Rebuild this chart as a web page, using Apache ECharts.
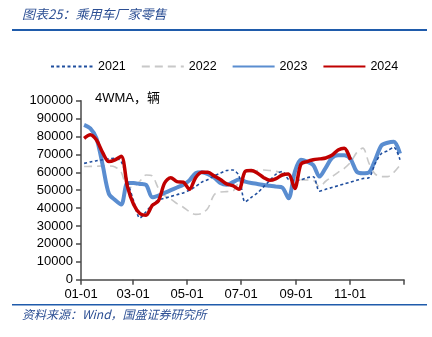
<!DOCTYPE html>
<html>
<head>
<meta charset="utf-8">
<script src="https://cdn.jsdelivr.net/npm/echarts@6/dist/echarts.min.js"></script>
<style>
  html, body { margin: 0; padding: 0; background: #fff; }
  #chart { width: 432px; height: 337px; }
</style>
</head>
<body>
<div id="chart"></div>
<script>
// Week midpoints, as day of year (weekly 4-week moving average)
const weekDays = [3.5, 10.5, 17.5, 24.5, 31.5, 38.5, 45.5, 52.5, 59.5, 66.5, 73.5, 80.5, 87.5,
  94.5, 101.5, 108.5, 115.5, 122.5, 129.5, 136.5, 143.5, 150.5, 157.5, 164.5, 171.5, 178.5,
  185.5, 192.5, 199.5, 206.5, 213.5, 220.5, 227.5, 234.5, 241.5, 248.5, 255.5, 262.5, 269.5,
  276.5, 283.5, 290.5, 297.5, 304.5, 311.5, 318.5, 325.5, 332.5, 339.5, 346.5, 353.5, 360.5];

const retail2021 = [65000, 65800, 66500, 67000, 67500, 67800, 66000, 55000, 44000, 34500, 38000, 42000, 44500,
  45500, 46500, 47500, 48500, 50000, 52000, 54500, 56000, 58000, 59500, 61000, 61300, 58000,
  43500, 46000, 48500, 52000, 55500, 59000, 60500, 56000, 55500, 55800, 57000, 57500, 49500,
  50500, 51500, 52500, 53500, 54500, 55500, 56500, 57000, 65000, 70500, 72000, 74000, 67000];

const retail2022 = [63200, 63300, 63400, 63500, 63500, 63000, 60000, 51500, 52000, 55000, 58500, 58000, 51000,
  47000, 45000, 42500, 40500, 38000, 36500, 37000, 40000, 47500, 49000, 49200, 49500, 55000,
  59000, 60000, 61000, 61300, 61000, 60500, 59500, 58000, 57000, 55800, 55700, 55500, 52000,
  55000, 57500, 60000, 62200, 65500, 71000, 73500, 65000, 59000, 57600, 57600, 60000, 64000];

const retail2023 = [86500, 84500, 79000, 64000, 48000, 44500, 42000, 54000, 54000, 53500, 53000, 46000, 47000,
  48500, 50000, 51500, 53000, 55500, 59500, 60000, 59000, 57000, 54000, 53000, 54500, 56000,
  54800, 54000, 53500, 52900, 52500, 52000, 51500, 45500, 60000, 67000, 66000, 64000, 57600,
  62500, 68000, 69500, 69500, 67500, 60400, 59500, 60000, 67000, 75000, 76500, 77000, 70500];

const retail2024 = [79000, 81000, 78000, 71000, 66000, 67000, 69000, 52000, 42000, 37000, 36000, 41500, 44000,
  54000, 57000, 54800, 54500, 50500, 57000, 60000, 60000, 58000, 56000, 53500, 52500, 50500,
  60500, 61000, 59500, 57000, 55500, 56500, 58500, 59000, 51000, 64500, 66000, 67000, 67500,
  68000, 69500, 72500, 73500, 67000];

// Month-start ticks (day of year) and their labels
const monthTicks = [0, 59, 120, 181, 243, 304, 365];
const monthLabels = ['01-01', '03-01', '05-01', '07-01', '09-01', '11-01'];

const seriesNames = ['2021', '2022', '2023', '2024'];

const toPairs = vals => vals.map((v, i) => [weekDays[i], v]);

const FONT = '"Liberation Sans", Arial, sans-serif';
const CJK = '"Noto Sans CJK SC", sans-serif';

const chart = echarts.init(document.getElementById('chart'), null, { renderer: 'canvas' });

chart.setOption({
  animation: false,
  backgroundColor: '#ffffff',
  grid: { left: 81, right: 28, top: 100.7, bottom: 57.3 },
  legend: {
    left: 50,
    top: 60,
    padding: 0,
    itemWidth: 42,
    itemHeight: 10,
    itemGap: 15,
    itemStyle: { opacity: 0 },
    textStyle: { fontFamily: FONT, fontSize: 12.5, color: '#000', padding: [0, 0, 0, 0] },
    data: seriesNames
  },
  xAxis: {
    type: 'value',
    min: 0,
    max: 365,
    axisLine: { show: true, lineStyle: { color: '#4a4a4a', width: 1.5 } },
    axisTick: { show: true, length: 5, inside: false, customValues: monthTicks,
      lineStyle: { color: '#4a4a4a', width: 1.5 } },
    axisLabel: {
      customValues: monthTicks.slice(0, 6),
      formatter: v => monthLabels[monthTicks.indexOf(v)] || '',
      fontFamily: FONT, fontSize: 13, color: '#000', margin: 8
    },
    splitLine: { show: false }
  },
  yAxis: {
    type: 'value',
    min: 0,
    max: 100000,
    interval: 10000,
    axisLine: { show: true, lineStyle: { color: '#4a4a4a', width: 1.5 } },
    axisTick: { show: true, length: 5, inside: false, lineStyle: { color: '#4a4a4a', width: 1.5 } },
    axisLabel: { fontFamily: FONT, fontSize: 13, color: '#000', margin: 8,
      formatter: v => String(v) },
    splitLine: { show: false }
  },
  series: [
    {
      name: '2022', type: 'line', smooth: 0.3, symbol: 'none', z: 2,
      data: toPairs(retail2022),
      itemStyle: { color: '#c8c8c8' },
      lineStyle: { color: '#c8c8c8', width: 1.6, type: [8, 5] }
    },
    {
      name: '2023', type: 'line', smooth: 0.3, symbol: 'none', z: 3,
      data: toPairs(retail2023),
      itemStyle: { color: '#5a8dd0' },
      lineStyle: { color: '#5a8dd0', width: 4 }
    },
    {
      name: '2021', type: 'line', smooth: 0.3, symbol: 'none', z: 4,
      data: toPairs(retail2021),
      itemStyle: { color: '#1f4e9e' },
      lineStyle: { color: '#1f4e9e', width: 1.6, type: [3, 2.5] }
    },
    {
      name: '2024', type: 'line', smooth: 0.3, symbol: 'none', z: 5,
      data: toPairs(retail2024),
      itemStyle: { color: '#c00000' },
      lineStyle: { color: '#c00000', width: 3.5 }
    }
  ],
  graphic: [
    {
      type: 'text', left: 22, top: 8,
      style: { text: '图表25：乘用车厂家零售', fill: '#2c4f94',
        font: 'italic 13px ' + CJK }
    },
    {
      type: 'rect', shape: { x: 12, y: 29, width: 415, height: 2 },
      style: { fill: '#1f5bab' }
    },
    {
      type: 'text', left: 95, top: 92,
      style: { text: '4WMA，辆', fill: '#000', font: '13px ' + FONT + ', ' + CJK }
    },
    {
      type: 'rect', shape: { x: 12, y: 304, width: 415, height: 1.5 },
      style: { fill: '#1f5bab' }
    },
    {
      type: 'text', left: 22, top: 308,
      style: { text: '资料来源：Wind，国盛证券研究所', fill: '#2c4f94',
        font: 'italic 12px ' + CJK }
    }
  ]
});
</script>
</body>
</html>
